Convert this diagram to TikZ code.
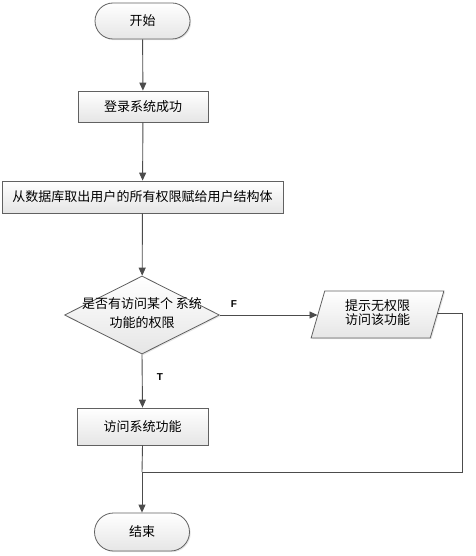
\documentclass[tikz,border=0pt]{standalone}
\usepackage{fontspec}
\setmainfont{Noto Sans CJK SC}
\newfontfamily\latinbold{Liberation Sans}
\usetikzlibrary{shapes.geometric,shapes.misc,arrows.meta,shadows}
\begin{document}
\begin{tikzpicture}[x=1pt,y=-1pt,
  every node/.style={font=\fontsize{13}{15}\selectfont},
  base/.style={draw=black!62, line width=0.8pt, top color=white, bottom color=black!10,
     drop shadow={shadow xshift=1.2pt, shadow yshift=-1.2pt, fill=black!20, opacity=0.5}},
  term/.style={base, rounded rectangle, minimum width=95pt, minimum height=36pt, inner sep=0pt},
  proc/.style={base, rectangle, minimum height=32pt, inner sep=0pt},
  dec/.style={base, diamond, aspect=2, inner sep=0pt, minimum width=155pt, minimum height=78pt},
  io/.style={base, trapezium, trapezium left angle=71, trapezium right angle=109, inner sep=0pt,
     minimum height=47pt, trapezium stretches=true, minimum width=133pt},
  conn/.style={draw=black!70, line width=0.9pt},
  arr/.style={conn, -{Triangle[length=8pt,width=7pt]}},
  lab/.style={font=\latinbold\bfseries\fontsize{10}{12}\selectfont}
]
\useasboundingbox (0,0) rectangle (475,556);
\node[term] (start) at (142.5,21) {开始};
\node[proc, minimum width=130pt, minimum height=31pt] (login) at (143,106.5) {登录系统成功};
\node[proc, minimum width=281pt] (fetch) at (142.5,197) {从数据库取出用户的所有权限赋给用户结构体};
\node[dec] (check) at (142,315) {};
\node at (142,304) {是否有访问某个 系统};
\node at (142,323) {功能的权限};
\node[io] (warn) at (377.5,314.5) {\begin{tabular}{c}提示无权限\\[-2pt]访问该功能\end{tabular}};
\node[proc, minimum width=131pt, minimum height=37pt] (visit) at (142.5,426.5) {访问系统功能};
\node[term, minimum height=38pt] (end) at (142,532) {结束};
\coordinate (join) at (142,472);
\coordinate (rt) at (462,313);
\draw[arr] (start) -- (login);
\draw[arr] (login) -- (fetch);
\draw[arr] (fetch) -- (check);
\draw[arr] (check.east) -- (warn.west|-check.east);
\draw[arr] (check.south) -- (visit.north);
\draw[conn] (visit.south) -- (join);
\draw[conn] (warn.east|-rt) -- (rt) -- (rt|-join) -- (join);
\draw[arr] (join) -- (end.north);
\node[lab] at (234,304) {F};
\node[lab] at (160,377) {T};
\end{tikzpicture}
\end{document}
